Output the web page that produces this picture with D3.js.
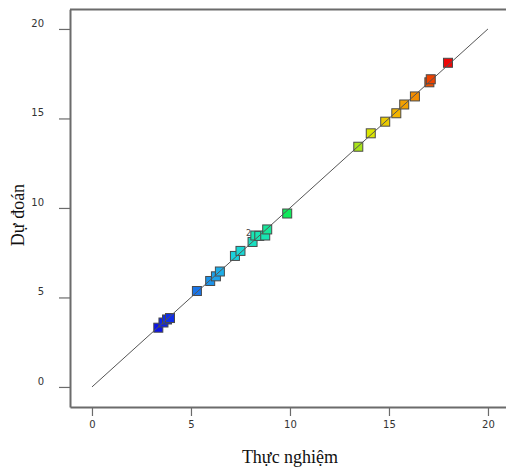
<!DOCTYPE html>
<html>
<head>
<meta charset="utf-8">
<script src="https://cdn.jsdelivr.net/npm/d3@7"></script>
<style>
  html, body { margin: 0; padding: 0; background: #fff; }
  svg { display: block; }
</style>
</head>
<body>
<svg id="chart" width="506" height="468"></svg>
<script>
// Actual (Thực nghiệm) vs predicted (Dự đoán) values
const actual = [3.35, 3.61, 3.79, 3.94, 5.30, 5.97, 6.26, 6.46, 7.22, 7.50,
                8.11, 8.25, 8.45, 8.75, 8.85, 9.86, 13.45, 14.08, 14.81, 15.37,
                15.77, 16.31, 17.04, 17.11, 17.98];
const predicted = [3.31, 3.60, 3.77, 3.85, 5.36, 5.92, 6.18, 6.45, 7.32, 7.60,
                   8.10, 8.46, 8.44, 8.46, 8.80, 9.69, 13.42, 14.17, 14.82, 15.29,
                   15.78, 16.23, 17.02, 17.19, 18.11];
const xTicks = [0, 5, 10, 15, 20];
const yTicks = [0, 5, 10, 15, 20];
// point that stands for two coincident runs
const countLabel = { x: 8.11, y: 8.10, text: "2" };

const svg = d3.select("#chart");

const x = d3.scaleLinear().domain([-1.11, 21.0]).range([70, 70 + 22.11 * 19.8]);
const y = d3.scaleLinear().domain([-1.12, 21.1]).range([407, 407 - 22.22 * 17.9]);

// colour ramp by predicted value: blue → cyan → green → yellow → red
const color = d3.scaleLinear()
  .domain([3.3, 5.3, 6.3, 7.4, 8.5, 9.7, 13.4, 14.2, 15.3, 16.3, 17.1, 18.1])
  .range(["#0c14e8", "#1a72e8", "#1ea8ea", "#1ad4dc", "#18e6b0", "#10ea5a",
          "#a8e41a", "#dee600", "#f2b400", "#f28a00", "#ee4800", "#ee0808"])
  .clamp(true);

// frame: top border
svg.append("line")
  .attr("x1", 70).attr("x2", 506)
  .attr("y1", 9.5).attr("y2", 9.5)
  .attr("stroke", "#6b6b6b").attr("stroke-width", 2);

// x axis
const gx = svg.append("g")
  .attr("transform", "translate(0,407)")
  .call(d3.axisBottom(x).tickValues(xTicks).tickSize(9).tickSizeOuter(0).tickPadding(5));
gx.select(".domain").attr("stroke", "#6b6b6b").attr("stroke-width", 2);
gx.selectAll(".tick line").attr("stroke", "#6b6b6b").attr("stroke-width", 1.2);
gx.selectAll(".tick text")
  .attr("font-family", "DejaVu Sans, sans-serif").attr("font-size", 10).attr("fill", "#333");

// y axis
const gy = svg.append("g")
  .attr("transform", "translate(70,0)")
  .call(d3.axisLeft(y).tickValues(yTicks).tickSize(11).tickSizeOuter(0).tickPadding(15));
gy.select(".domain").attr("stroke", "#6b6b6b").attr("stroke-width", 2);
gy.selectAll(".tick line").attr("stroke", "#6b6b6b").attr("stroke-width", 1.2);
gy.selectAll(".tick text")
  .attr("font-family", "DejaVu Sans, sans-serif").attr("font-size", 10).attr("fill", "#333")
  .attr("dy", "-0.25em");

// axis titles
svg.append("text")
  .attr("x", 290).attr("y", 463)
  .attr("text-anchor", "middle")
  .attr("font-family", "Liberation Serif, serif").attr("font-size", 18).attr("fill", "#111")
  .text("Thực nghiệm");

svg.append("text")
  .attr("transform", "translate(24,215) rotate(-90)")
  .attr("text-anchor", "middle")
  .attr("font-family", "Liberation Serif, serif").attr("font-size", 18).attr("fill", "#111")
  .text("Dự đoán");

// data points
const pts = actual.map((a, i) => ({ a, p: predicted[i] }));
const s = 9;
svg.append("g").selectAll("rect")
  .data(pts)
  .join("rect")
  .attr("x", d => x(d.a) - s / 2)
  .attr("y", d => y(d.p) - s / 2)
  .attr("width", s).attr("height", s)
  .attr("fill", d => color(d.p))
  .attr("stroke", "#4a4a4a").attr("stroke-width", 1);

// y = x reference line
svg.append("line")
  .attr("x1", x(0)).attr("y1", y(0))
  .attr("x2", x(20)).attr("y2", y(20))
  .attr("stroke", "#555").attr("stroke-width", 1);

svg.append("text")
  .attr("x", x(countLabel.x) - 4).attr("y", y(countLabel.y) - 6)
  .attr("text-anchor", "middle")
  .attr("font-family", "DejaVu Sans, sans-serif").attr("font-size", 8).attr("fill", "#444")
  .text(countLabel.text);
</script>
</body>
</html>
